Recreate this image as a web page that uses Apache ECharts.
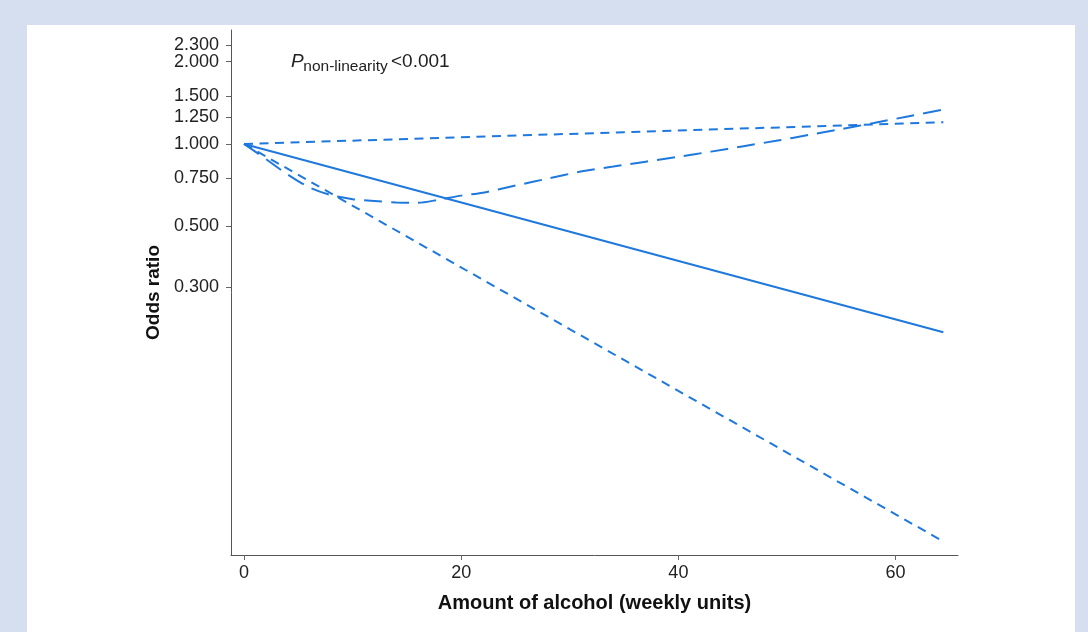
<!DOCTYPE html>
<html>
<head>
<meta charset="utf-8">
<script src="https://cdn.jsdelivr.net/npm/echarts@6/dist/echarts.min.js"></script>
<style>
  html, body { margin: 0; padding: 0; width: 1088px; height: 632px; background: #d6dff0; overflow: hidden; }
  #panel { position: absolute; left: 27px; top: 25px; width: 1048px; height: 607px; background: #ffffff; }
  #chart { position: absolute; left: 0; top: 0; width: 1088px; height: 632px; }
</style>
</head>
<body>
<div id="panel"></div>
<div id="chart"></div>
<script>
// Weekly alcohol units (x) and odds ratios (y, plotted on a natural-log scale)
const curveUnits = [0, 2, 4, 6, 8, 10, 12, 14, 16, 18, 20, 22, 25, 28, 31, 34, 37, 40, 43, 46, 49, 52, 55, 58, 61, 64.4];
const curveOR    = [1.000, 0.882, 0.775, 0.695, 0.651, 0.629, 0.619, 0.612, 0.610, 0.627, 0.648, 0.664, 0.705, 0.748,
                    0.793, 0.827, 0.862, 0.898, 0.938, 0.982, 1.027, 1.079, 1.134, 1.193, 1.258, 1.335];
const lineUnits  = [0, 64.4];
const linearOR   = [1.000, 0.2055];
const upperCI    = [1.000, 1.200];
const lowerCI    = [1.000, 0.0354];

const yTicks = [0.3, 0.5, 0.75, 1, 1.25, 1.5, 2, 2.3];
const xTicks = [0, 20, 40, 60];
const yRange = [0.0316, 2.607];

const BLUE = '#1f78dc';
const FONT = '"Liberation Sans", Arial, sans-serif';

// odds ratios go onto a value axis in log units
const ln = Math.log;
const pairs = (xs, ys) => xs.map((x, i) => [x, ln(ys[i])]);

// the top two ticks sit close together, so the top one lives on a twin axis
// (otherwise the automatic label de-overlap drops one of them)
const mainTicks = yTicks.slice(0, -1).map(ln);
const topTicks = yTicks.slice(-1).map(ln);

const yLabel = {
  margin: 12, hideOverlap: false,
  fontFamily: FONT, fontSize: 18, color: '#222',
  formatter: v => Math.exp(v).toFixed(3)
};
const yTick = { show: true, length: 5, lineStyle: { color: '#666' } };

const chart = echarts.init(document.getElementById('chart'), null, { renderer: 'canvas' });

chart.setOption({
  animation: false,
  backgroundColor: 'transparent',
  grid: { left: 231, top: 30, right: 130, bottom: 77, containLabel: false },
  xAxis: {
    type: 'value',
    min: -1.2,
    max: 65.75,
    name: 'Amount of alcohol (weekly units)',
    nameLocation: 'middle',
    nameGap: 38,
    nameTextStyle: { fontFamily: FONT, fontWeight: 'bold', fontSize: 20, color: '#111' },
    axisLine: { show: true, onZero: false, lineStyle: { color: '#555', width: 1 } },
    axisTick: { show: true, customValues: xTicks, length: 5, lineStyle: { color: '#666' } },
    axisLabel: { customValues: xTicks, margin: 9, hideOverlap: false, fontFamily: FONT, fontSize: 18, color: '#222' },
    splitLine: { show: false }
  },
  yAxis: [
    {
      type: 'value',
      position: 'left',
      min: ln(yRange[0]),
      max: ln(yRange[1]),
      name: 'Odds ratio',
      nameLocation: 'middle',
      nameGap: 68,
      nameTextStyle: { fontFamily: FONT, fontWeight: 'bold', fontSize: 19, color: '#111' },
      axisLine: { show: true, onZero: false, lineStyle: { color: '#555', width: 1 } },
      axisTick: Object.assign({ customValues: mainTicks }, yTick),
      axisLabel: Object.assign({ customValues: mainTicks }, yLabel),
      splitLine: { show: false }
    },
    {
      type: 'value',
      position: 'left',
      offset: 0,
      min: ln(yRange[0]),
      max: ln(yRange[1]),
      axisLine: { show: false, onZero: false },
      axisTick: Object.assign({ customValues: topTicks }, yTick),
      axisLabel: Object.assign({ customValues: topTicks, showMaxLabel: true }, yLabel),
      splitLine: { show: false }
    }
  ],
  graphic: [
    { type: 'text', x: 291, y: 61.7, style: { text: 'P', font: 'italic 19px ' + FONT, fill: '#222', verticalAlign: 'middle', align: 'left' } },
    { type: 'text', x: 303.3, y: 67, style: { text: 'non-linearity', font: '15.5px ' + FONT, fill: '#222', verticalAlign: 'middle', align: 'left' } },
    { type: 'text', x: 391, y: 62, style: { text: '<0.001', font: '19px ' + FONT, fill: '#222', verticalAlign: 'middle', align: 'left' } }
  ],
  series: [
    {
      name: 'Linear', type: 'line', data: pairs(lineUnits, linearOR),
      showSymbol: false, symbol: 'none',
      lineStyle: { color: BLUE, width: 2, type: 'solid' }
    },
    {
      name: 'Upper 95% CI', type: 'line', data: pairs(lineUnits, upperCI),
      showSymbol: false, symbol: 'none',
      lineStyle: { color: BLUE, width: 2, type: [9, 6.5] }
    },
    {
      name: 'Lower 95% CI', type: 'line', data: pairs(lineUnits, lowerCI),
      showSymbol: false, symbol: 'none',
      lineStyle: { color: BLUE, width: 2, type: [9, 6.5] }
    },
    {
      name: 'Spline', type: 'line', data: pairs(curveUnits, curveOR),
      showSymbol: false, symbol: 'none', smooth: 0.3,
      lineStyle: { color: BLUE, width: 2, type: [18, 9] }
    }
  ]
});
</script>
</body>
</html>
